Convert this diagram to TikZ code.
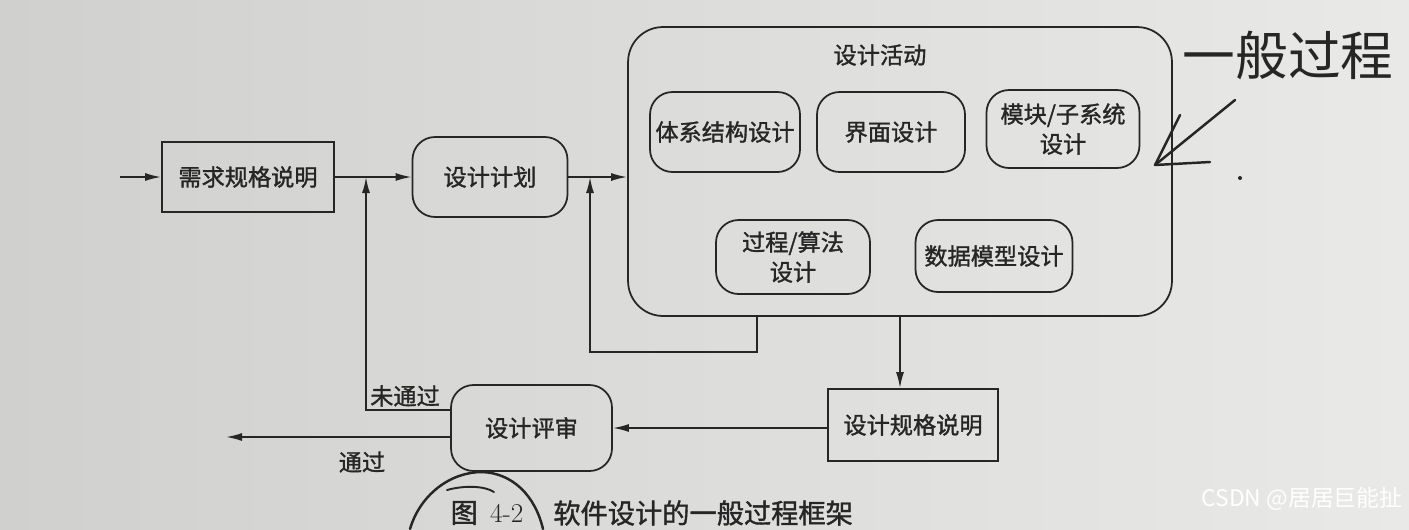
\documentclass[tikz,border=0pt]{standalone}
\usepackage{fontspec}
\newfontfamily\cjk[RawFeature={embolden=1.3}]{Noto Sans CJK SC}
\newfontfamily\cjkhand{Noto Sans CJK SC}
\usetikzlibrary{arrows.meta,calc}
\definecolor{ink}{RGB}{38,38,38}
\definecolor{paperL}{RGB}{208,208,206}
\definecolor{paperR}{RGB}{233,233,231}
\begin{document}
\begin{tikzpicture}[x=0.02cm,y=-0.02cm,
  every node/.style={text=ink},
  lbl/.style={font=\cjk\fontsize{13.2}{17}\selectfont, inner sep=0pt, align=center},
  sqbox/.style={draw=ink, line width=1pt, lbl},
  rbox/.style={sqbox, rounded corners=0.45cm},
  arr/.style={draw=ink, line width=1pt, -{Latex[length=3.2mm,width=1.6mm]}},
  hand/.style={draw=black!85, line width=1.4pt, line cap=round, line join=round}]
\shade[left color=paperL, right color=paperR] (0,0) rectangle (1409,529);
\useasboundingbox (0,0) rectangle (1409,529);

% nodes
\node[sqbox, minimum width=3.44cm, minimum height=1.4cm] (req) at (248,177) {需求规格说明};
\node[rbox, minimum width=3.1cm, minimum height=1.6cm] (plan) at (490,177) {设计计划};
\node[draw=ink, line width=1pt, rounded corners=0.7cm, minimum width=10.88cm, minimum height=5.78cm, inner sep=0pt] (act) at (900,171.5) {};
\node[lbl] (acttitle) at (880,55) {设计活动};
\node[rbox, minimum width=3.0cm, minimum height=1.6cm] (arch) at (725,132) {体系结构设计};
\node[rbox, minimum width=2.96cm, minimum height=1.6cm] (ui) at (891,132) {界面设计};
\node[rbox, minimum width=3.06cm, minimum height=1.56cm] (mod) at (1063,129) {模块/子系统\\设计};
\node[rbox, minimum width=3.08cm, minimum height=1.48cm] (proc) at (793,257) {过程/算法\\设计};
\node[rbox, minimum width=3.14cm, minimum height=1.44cm] (data) at (994,256) {数据模型设计};
\node[sqbox, minimum width=3.4cm, minimum height=1.44cm] (spec) at (913,425) {设计规格说明};
\node[rbox, minimum width=3.22cm, minimum height=1.72cm] (rev) at (531.5,428) {设计评审};

% connectors
\coordinate (in) at (120,177);
\coordinate (j1) at (366,177);
\coordinate (j2) at (590,177);
\coordinate (fb) at (757,352);
\coordinate (nf) at (366,410);
\coordinate (out) at (226,437);
\draw[arr] (in) -- (req.west);
\draw[arr] (req.east) -- (plan.west);
\draw[arr] (plan.east) -- (plan.east -| act.west);
\draw[arr] (act.south -| fb) -- (fb) -- (fb -| j2) -- (j2);
\draw[arr] (act.south) -- (act.south |- spec.north);
\draw[arr] (rev.east -| spec.west) -- (rev.east);
\draw[arr] (nf -| rev.west) -- (nf) -- (j1);
\draw[arr] (out -| rev.west) -- (out);
\node[lbl] (nfl) at (405,396) {未通过};
\node[lbl] (pl) at (362,462) {通过};

% caption
\node[font=\cjk\fontsize{15.5}{18}\selectfont, inner sep=0pt] (cap1) at (487,513) {图\hspace{0.45em}{\rmfamily\fontsize{15.5}{18}\selectfont 4-2}};
\node[font=\cjk\fontsize{15.5}{18}\selectfont, inner sep=0pt, anchor=west] (cap2) at (553,513) {软件设计的一般过程框架};

% handwritten annotations
\draw[hand] (410,529) .. controls (420,495) and (450,472) .. (482,472) .. controls (512,473) and (535,495) .. (543,529);
\draw[hand, line width=1.1pt] (447,490) .. controls (465,485) and (485,486) .. (494,492);
\node[font=\cjkhand\fontsize{30}{32}\selectfont, text=black!85, inner sep=0pt] (handtxt) at (1288,55) {一般过程};
\coordinate (ht) at (1235,100);
\coordinate (hh) at (1155,165);
\coordinate (hb1) at (1180,115);
\coordinate (hb2) at (1210,162);
\draw[hand] (ht) -- (hh);
\draw[hand] (hb1) -- (hh) -- (hb2);
\fill[black!85] (1240,178) circle (2);

% watermark
\node[font=\cjkhand\fontsize{13}{15}\selectfont, text=white, inner sep=0pt] (wm) at (1302,499) {CSDN @居居巨能扯};
\end{tikzpicture}
\end{document}
